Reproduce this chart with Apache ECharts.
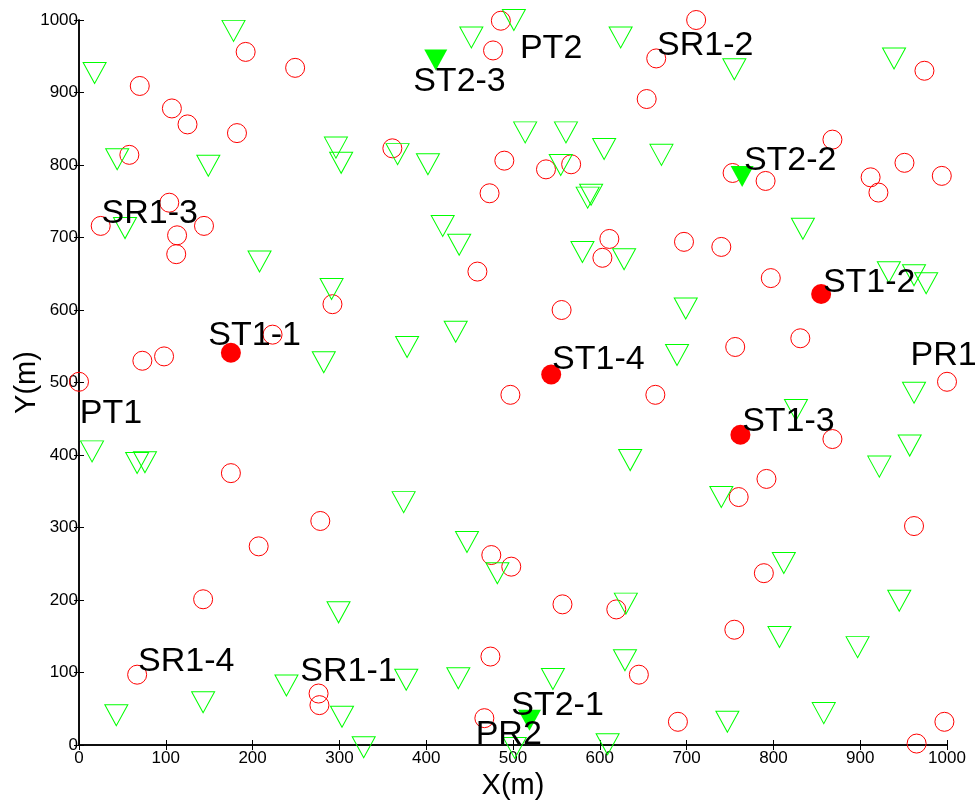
<!DOCTYPE html>
<html>
<head>
<meta charset="utf-8">
<script src="https://cdn.jsdelivr.net/npm/echarts@6/dist/echarts.min.js"></script>
<style>
  html, body { margin: 0; padding: 0; background: #fff; }
  #chart { width: 975px; height: 805px; }
</style>
</head>
<body>
<div id="chart"></div>
<script>
// hollow red circles (SR nodes)
const circleX = [486, 711, 477, 192, 249, 665, 974, 70, 654, 107, 125, 182, 868, 58, 361, 490, 538, 567, 753, 791,
  912, 921, 951, 994, 473, 104, 25, 144, 113, 112, 697, 740, 611, 603, 459, 292, 797, 556, 223, 831,
  756, 73, 98, 0, 1000, 497, 664, 868, 175, 792, 760, 278, 207, 962, 475, 498, 789, 557, 619, 143,
  755, 474, 67, 645, 276, 277, 467, 690, 997, 965]
const circleY = [999, 1000, 958, 956, 934, 947, 930, 909, 891, 878, 856, 844, 835, 814, 823, 806, 794, 801, 789, 778,
  783, 762, 803, 785, 761, 748, 716, 716, 703, 677, 694, 687, 698, 672, 653, 608, 644, 600, 566, 561,
  549, 530, 536, 501, 501, 483, 483, 422, 375, 367, 342, 309, 274, 302, 262, 246, 237, 194, 187, 201,
  159, 122, 97, 97, 71, 55, 37, 32, 32, 2]

// hollow green triangles
const triX = [178, 18, 44, 149, 296, 302, 53, 208, 501, 452, 624, 514, 561, 605, 367, 402, 555, 586, 590, 419,
  438, 580, 628, 671, 755, 939, 834, 291, 282, 15, 67, 76, 434, 378, 635, 374, 933, 962, 976, 699,
  689, 962, 826, 957, 922, 740, 299, 239, 143, 43, 303, 328, 447, 482, 630, 629, 377, 437, 546, 502,
  609, 812, 945, 807, 897, 858, 747]
const triY = [985, 927, 808, 799, 824, 803, 713, 667, 1000, 976, 976, 845, 845, 822, 815, 801, 800, 755, 759, 716,
  690, 680, 670, 814, 932, 947, 712, 629, 528, 405, 389, 390, 570, 549, 393, 335, 652, 648, 637, 602,
  538, 486, 462, 413, 384, 342, 183, 82, 59, 41, 39, -3, 280, 237, 195, 117, 90, 92, 91, -4,
  1, 251, 199, 149, 135, 44, 32]

// filled markers
const st1X = [175, 855, 762, 544]
const st1Y = [541, 622, 428, 511]
const st2X = [519, 764, 411]
const st2Y = [34, 784, 945]

// text annotations (left edge, vertical middle)
const labelNames = ['SR1-2', 'ST2-2', 'PT2', 'ST2-3', 'SR1-3', 'ST1-1', 'PT1', 'ST1-4',
  'ST1-2', 'PR1', 'ST1-3', 'SR1-4', 'SR1-1', 'ST2-1', 'PR2']
const labelX = [666, 766, 508, 385, 26, 149, 1, 545, 857, 958, 764, 68, 255, 498, 457]
const labelY = [965, 806, 961, 915, 733, 564, 457, 531, 638, 537, 446, 115, 101, 55, 14]

const pairs = (xs, ys) => xs.map((x, i) => [x, ys[i]])

const font = "'Liberation Sans', Arial, sans-serif"

const chart = echarts.init(document.getElementById('chart'))

const axisCommon = {
  type: 'value',
  min: 0,
  max: 1000,
  interval: 100,
  splitLine: { show: false },
  axisLine: { show: true, lineStyle: { color: '#000', width: 1.5 } },
  axisTick: { show: true, inside: true, length: 5, lineStyle: { color: '#000', width: 1 } }
}

const tickLabel = { fontFamily: font, fontSize: 17, color: '#000', formatter: v => String(v) }

const option = {
  animation: false,
  backgroundColor: '#fff',
  grid: { left: 79, right: 28, top: 20, bottom: 60, outerBoundsMode: 'none', containLabel: false },
  xAxis: [
    Object.assign({}, axisCommon, {
      position: 'bottom',
      name: 'X(m)',
      nameLocation: 'middle',
      nameGap: 24,
      nameTextStyle: { fontFamily: font, fontSize: 29, color: '#000' },
      axisLabel: Object.assign({ margin: 5 }, tickLabel)
    }),
    Object.assign({}, axisCommon, { position: 'top', axisLabel: { show: false } })
  ],
  yAxis: [
    Object.assign({}, axisCommon, {
      position: 'left',
      name: 'Y(m)',
      nameLocation: 'middle',
      nameGap: 38,
      nameMoveOverlap: false,
      nameTextStyle: { fontFamily: font, fontSize: 29, color: '#000' },
      axisLabel: Object.assign({ margin: 1 }, tickLabel)
    }),
    Object.assign({}, axisCommon, { position: 'right', axisLabel: { show: false } })
  ],
  series: [
    {
      type: 'scatter',
      clip: false,
      data: pairs(circleX, circleY),
      symbol: 'circle',
      symbolSize: 19,
      itemStyle: { color: 'rgba(0,0,0,0)', borderColor: '#ff0000', borderWidth: 1, opacity: 1 }
    },
    {
      type: 'scatter',
      clip: false,
      data: pairs(triX, triY),
      symbol: 'triangle',
      symbolRotate: 180,
      symbolSize: [23, 21],
      itemStyle: { color: 'rgba(0,0,0,0)', borderColor: '#00ff00', borderWidth: 1, opacity: 1 }
    },
    {
      type: 'scatter',
      clip: false,
      data: pairs(st1X, st1Y),
      symbol: 'circle',
      symbolSize: 20,
      itemStyle: { color: '#ff0000', opacity: 1 }
    },
    {
      type: 'scatter',
      clip: false,
      data: pairs(st2X, st2Y),
      symbol: 'triangle',
      symbolRotate: 180,
      symbolSize: [23, 21],
      itemStyle: { color: '#00ff00', opacity: 1 }
    },
    {
      type: 'scatter',
      clip: false,
      symbolSize: 0,
      itemStyle: { opacity: 1 },
      data: labelNames.map((n, i) => ({ name: n, value: [labelX[i], labelY[i]] })),
      label: {
        show: true,
        formatter: '{b}',
        position: [0, 0],
        align: 'left',
        verticalAlign: 'middle',
        fontFamily: font,
        fontSize: 34,
        color: '#000'
      },
      z: 5
    }
  ]
}

chart.setOption(option)
</script>
</body>
</html>
